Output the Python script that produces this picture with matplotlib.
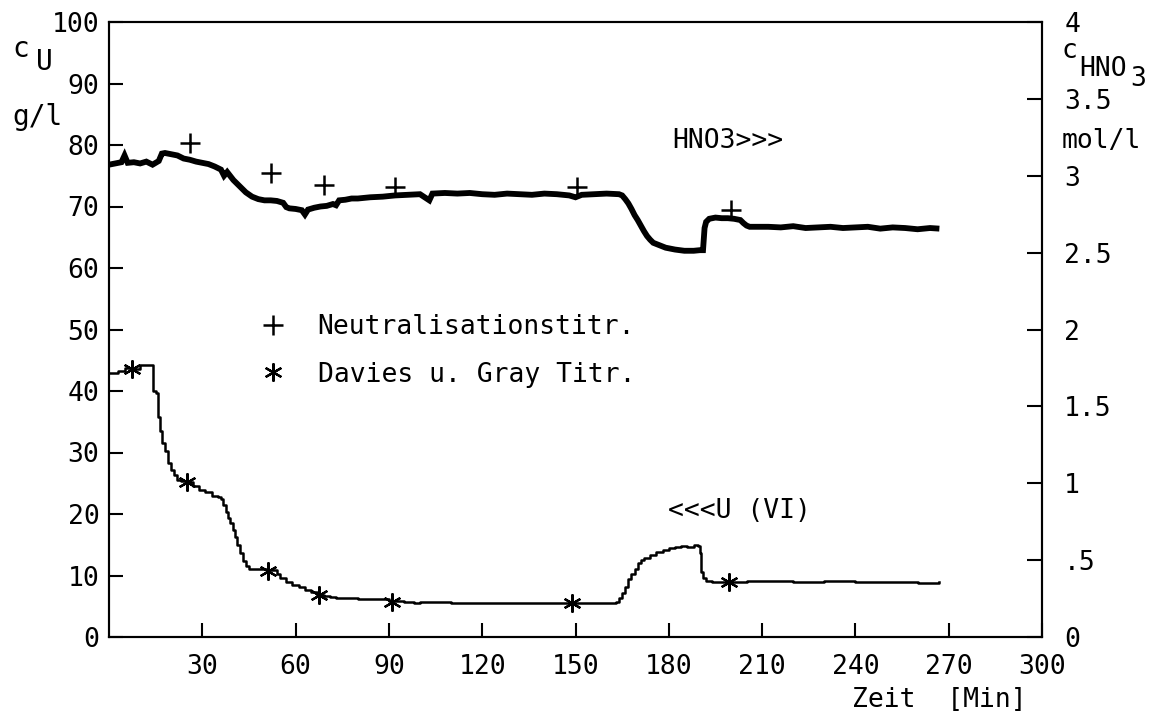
import matplotlib
matplotlib.use("Agg")
import matplotlib.pyplot as plt

plt.rcParams['font.family'] = ['DejaVu Sans Mono']

# HNO3 trace (mol/l), right axis
t_hno3 = [0, 2, 4, 5, 6, 8, 10, 12, 14, 16, 17, 18, 20, 22, 24, 26, 28, 30, 32, 34,
          36, 37, 38, 40, 42, 44, 46, 48, 50, 52, 54, 56, 57, 58, 60, 62, 63, 64, 66, 68,
          70, 72, 73, 74, 76, 78, 80, 84, 88, 92, 96, 100, 103, 104, 108, 112, 116, 120,
          124, 128, 132, 136, 140, 144, 148, 150, 152, 156, 160, 164, 165, 166, 167, 168,
          169, 170, 171, 172, 173, 174, 175, 177, 179, 182, 185, 188, 190, 191, 191.5, 192,
          193, 195, 197, 199, 201, 203, 204, 205, 206, 208, 212, 216, 220, 224, 228, 232,
          236, 240, 244, 248, 252, 256, 260, 264, 267]
c_hno3 = [3.072, 3.080, 3.088, 3.132, 3.084, 3.088, 3.080, 3.092, 3.072, 3.096, 3.144,
          3.148, 3.140, 3.132, 3.112, 3.104, 3.092, 3.084, 3.076, 3.060, 3.040, 3.000,
          3.024, 2.972, 2.932, 2.892, 2.864, 2.848, 2.840, 2.840, 2.836, 2.824, 2.796,
          2.788, 2.784, 2.776, 2.748, 2.780, 2.792, 2.800, 2.804, 2.816, 2.808, 2.840,
          2.844, 2.852, 2.852, 2.860, 2.864, 2.872, 2.876, 2.880, 2.840, 2.884, 2.888,
          2.884, 2.888, 2.880, 2.876, 2.884, 2.880, 2.876, 2.884, 2.880, 2.872, 2.860,
          2.876, 2.880, 2.884, 2.880, 2.872, 2.848, 2.820, 2.784, 2.744, 2.712, 2.676,
          2.640, 2.608, 2.584, 2.564, 2.548, 2.532, 2.520, 2.512, 2.512, 2.516, 2.516,
          2.660, 2.700, 2.720, 2.728, 2.724, 2.724, 2.720, 2.712, 2.692, 2.676, 2.668,
          2.668, 2.668, 2.664, 2.672, 2.660, 2.664, 2.668, 2.660, 2.664, 2.668, 2.656,
          2.664, 2.660, 2.652, 2.660, 2.656]

# U(VI) trace (g/l), left axis
t_u = [0, 3, 5, 8, 10, 12, 14, 14.3, 15, 15.8, 16.5, 17.2, 18, 19, 20, 21, 22, 23, 25, 27,
       29, 31, 33, 35, 36, 36.8, 37.5, 38.3, 39, 39.8, 40.5, 41.3, 42, 43, 44, 45, 47, 49,
       51, 53, 54, 55, 57, 59, 61, 63, 65, 67, 69, 71, 73, 76, 80, 85, 90, 95, 98, 100,
       110, 120, 130, 140, 150, 160, 163, 164, 165, 166, 167, 168, 169, 170, 171, 172,
       174, 176, 178, 180, 182, 184, 186, 188, 189.5, 190, 190.5, 191, 192, 194, 196,
       200, 205, 210, 220, 230, 240, 250, 260, 267]
c_u = [43.0, 43.2, 43.8, 43.6, 44.3, 44.3, 44.2, 40.0, 39.6, 35.8, 33.5, 31.5, 30.3, 28.3,
       27.2, 26.3, 25.6, 25.4, 25.2, 24.5, 23.9, 23.5, 23.0, 22.8, 22.5, 21.5, 20.3, 19.4,
       18.5, 17.4, 16.3, 15.0, 13.6, 12.4, 11.5, 11.1, 11.0, 11.0, 10.9, 10.9, 10.3, 9.6,
       9.0, 8.5, 8.1, 7.7, 7.3, 6.9, 6.6, 6.5, 6.3, 6.3, 6.2, 6.1, 5.8, 5.7, 5.6, 5.7,
       5.6, 5.6, 5.5, 5.5, 5.5, 5.6, 5.7, 6.4, 7.1, 8.1, 9.5, 10.3, 11.0, 12.0, 12.5,
       12.9, 13.4, 13.8, 14.2, 14.5, 14.6, 14.8, 14.7, 14.9, 14.8, 13.6, 10.5, 9.6, 9.1,
       8.9, 9.0, 8.9, 9.1, 9.1, 9.0, 9.1, 9.0, 8.9, 8.8, 8.9]

# titration samples
t_neutr = [26, 52, 69, 92, 150.5, 200]
c_neutr = [3.21, 3.02, 2.94, 2.93, 2.93, 2.78]
t_davies = [7.4, 25, 51, 67.5, 91, 149, 199.4]
c_davies = [43.6, 25.2, 10.8, 6.8, 5.7, 5.5, 8.9]

x_ticks = [30, 60, 90, 120, 150, 180, 210, 240, 270, 300]
y_ticks = [0, 10, 20, 30, 40, 50, 60, 70, 80, 90, 100]
y2_ticks = [0, 0.5, 1, 1.5, 2, 2.5, 3, 3.5, 4]
y2_labels = ['0', '.5', '1', '1.5', '2', '2.5', '3', '3.5', '4']

W, H = 1160, 711
fs = 19
fig = plt.figure(figsize=(W / 100, H / 100), dpi=100)
ax = fig.add_axes([109 / W, 1 - 637 / H, (1042 - 109) / W, (637 - 22) / H])
ax2 = ax.twinx()

ax.plot(t_u, c_u, color='k', lw=1.8, drawstyle='steps-post')
h_dav, = ax.plot(t_davies, c_davies, ls='none', marker=(6, 2, 0), ms=13, mew=1.6,
                 color='k', label='Davies u. Gray Titr.')
ax2.plot(t_hno3, c_hno3, color='k', lw=4.2, solid_joinstyle='miter',
         solid_capstyle='butt')
h_neu, = ax2.plot(t_neutr, c_neutr, ls='none', marker='+', ms=14, mew=1.8,
                  color='k', label='Neutralisationstitr.')

ax.set_xlim(0, 300)
ax.set_ylim(0, 100)
ax2.set_ylim(0, 4)

ax.set_xticks(x_ticks)
ax.set_xticklabels([str(v) for v in x_ticks])
ax.set_yticks(y_ticks)
ax.set_yticklabels([str(v) for v in y_ticks])
ax2.set_yticks(y2_ticks)
ax2.set_yticklabels(y2_labels)

ax.tick_params(axis='x', direction='in', length=10, width=1.5, pad=12, labelsize=fs)
ax.tick_params(axis='y', direction='in', length=10, width=1.5, pad=7, labelsize=fs)
ax2.tick_params(axis='y', direction='in', length=11, width=1.5, pad=16, labelsize=fs)
for a in (ax, ax2):
    for s in a.spines.values():
        s.set_linewidth(1.5)

ax.text(181, 80.6, 'HNO3>>>', fontsize=fs, va='center', ha='left')
ax.text(179.7, 20.5, '<<<U (VI)', fontsize=fs, va='center', ha='left')

leg = ax2.legend(handles=[h_neu, h_dav], loc='center left',
                 bbox_to_anchor=(259.5 / W, 1 - 351 / H), bbox_transform=fig.transFigure,
                 frameon=False, fontsize=fs, handlelength=1.0, handletextpad=1.2,
                 labelspacing=0.8, borderpad=0, borderaxespad=0)

# axis labels
fig.text(12 / W, 1 - 57 / H, 'c', fontsize=fs + 1, va='baseline', ha='left')
fig.text(36 / W, 1 - 70 / H, 'U', fontsize=fs + 1, va='baseline', ha='left')
fig.text(12 / W, 1 - 125 / H, 'g/l', fontsize=fs + 1, va='baseline', ha='left')
fig.text(1062 / W, 1 - 58 / H, 'c', fontsize=fs, va='baseline', ha='left')
fig.text(1079 / W, 1 - 76 / H, 'HNO', fontsize=fs, va='baseline', ha='left')
fig.text(1130 / W, 1 - 86 / H, '3', fontsize=fs, va='baseline', ha='left')
fig.text(1062 / W, 1 - 141 / H, 'mol/l', fontsize=fs, va='center', ha='left')
fig.text(1027 / W, 1 - 707 / H, 'Zeit  [Min]', fontsize=fs, va='baseline', ha='right')

fig.savefig('out.png', dpi=100)
